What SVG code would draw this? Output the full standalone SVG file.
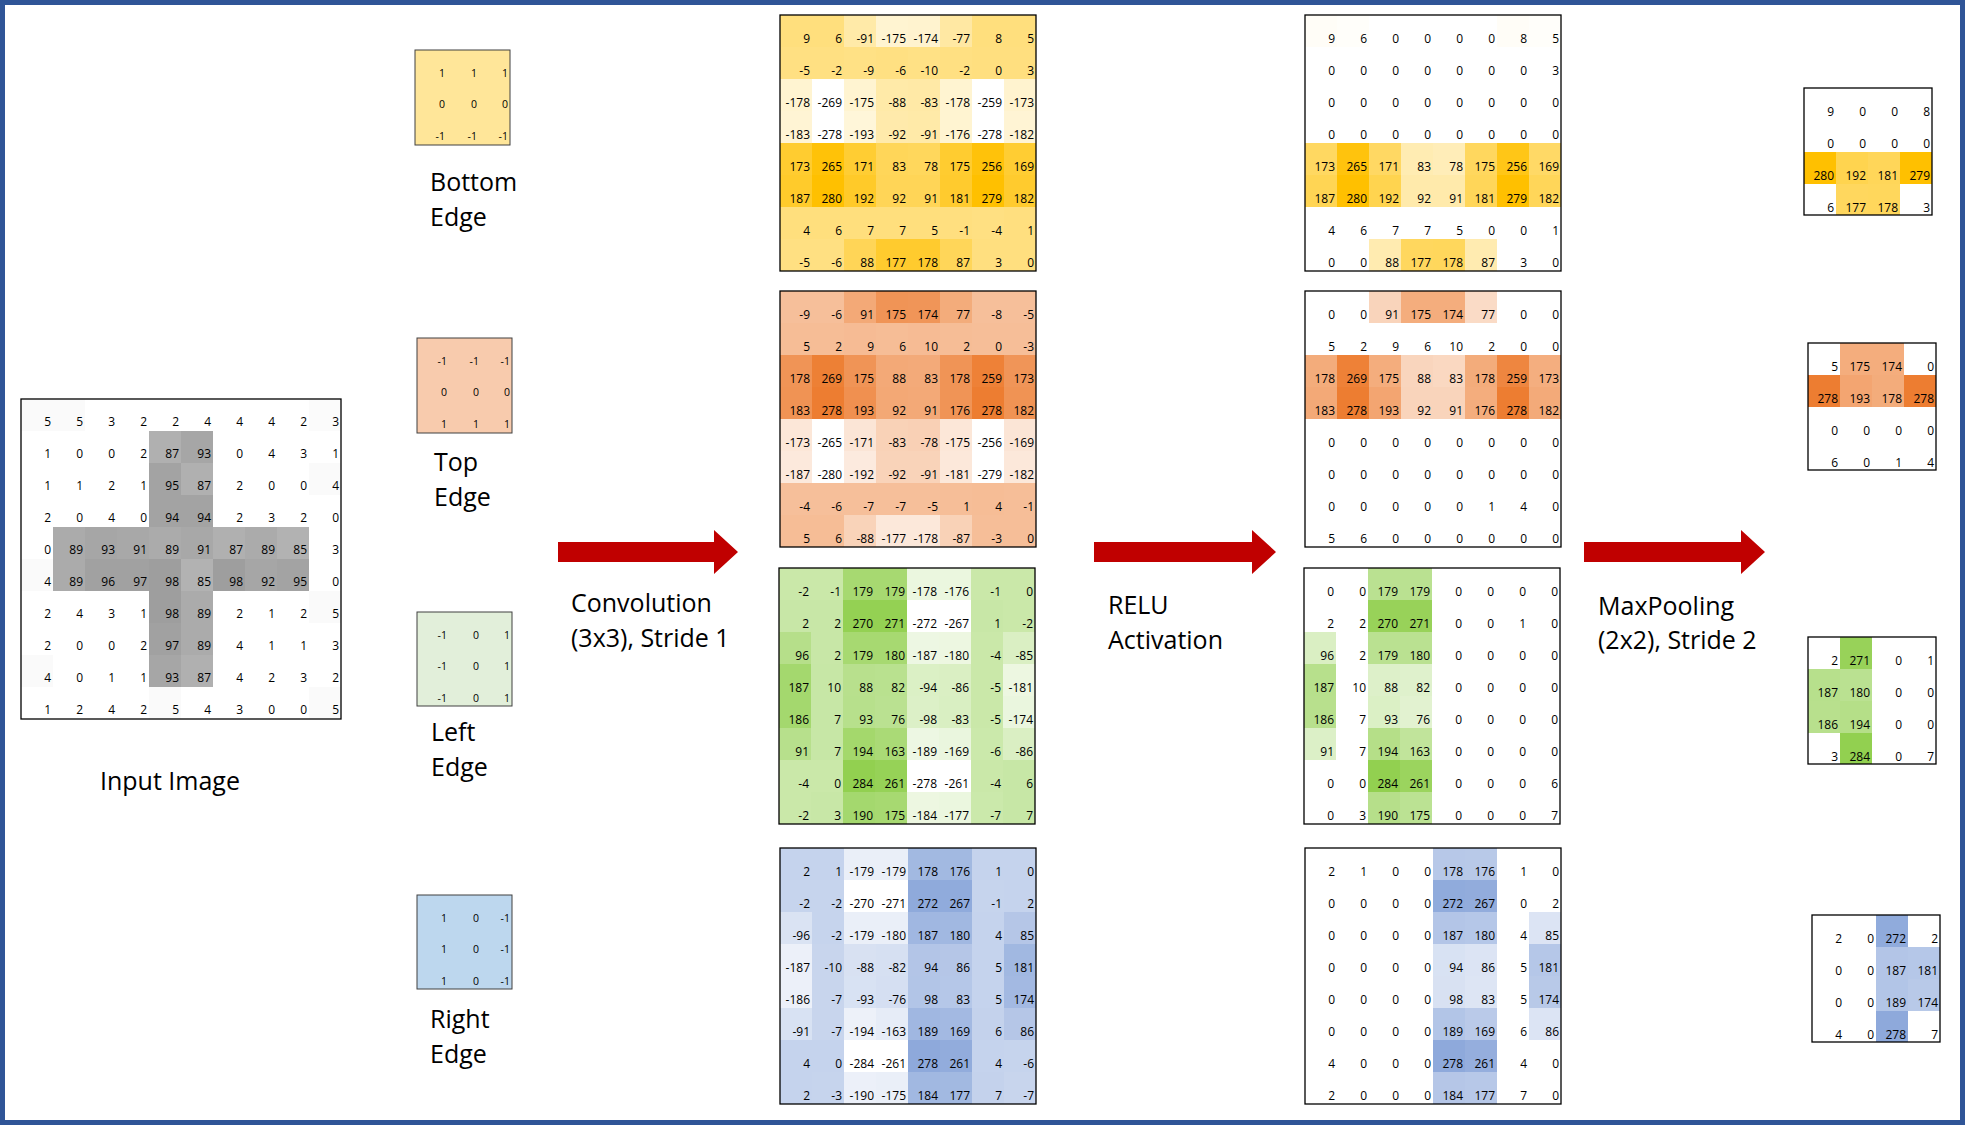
<svg xmlns="http://www.w3.org/2000/svg" width="1965" height="1125" viewBox="0 0 1965 1125">
<style>
.n text{font-family:"Open Sans","Liberation Sans",sans-serif;font-size:12px;text-anchor:end;fill:#000}
.k text{font-family:"Open Sans","Liberation Sans",sans-serif;font-size:10.5px;text-anchor:end;fill:#000}
.lbl{font-family:"Open Sans","Liberation Sans",sans-serif;font-size:25px;fill:#000}
.bg{fill:#fff}
.bd{fill:none;stroke:#000;stroke-width:1.3}
.kb{stroke:#404040;stroke-width:1}
.c rect{width:32px;height:32px}
.cy{fill:#FFC000}.co{fill:#ED7D31}.cg{fill:#92D050}.cb{fill:#8EA9DB}.cx{fill:#000}
.arrow{fill:#C00000}
</style>
<rect x="0" y="0" width="1965" height="1125" fill="#fff"/>
<rect x="2.5" y="2.5" width="1960" height="1120" fill="none" stroke="#2F5597" stroke-width="5"/>

<g id="input-image" transform="translate(21,399)">
<rect class="bg" width="320" height="320"/>
<g class="c cx">
<rect x="128" y="32" opacity=".31"/><rect x="160" y="32" opacity=".35"/>
<rect x="128" y="64" opacity=".36"/><rect x="160" y="64" opacity=".31"/>
<rect x="128" y="96" opacity=".36"/><rect x="160" y="96" opacity=".36"/>
<rect x="32" y="128" opacity=".33"/><rect x="64" y="128" opacity=".35"/><rect x="96" y="128" opacity=".34"/><rect x="128" y="128" opacity=".33"/><rect x="160" y="128" opacity=".34"/><rect x="192" y="128" opacity=".31"/><rect x="224" y="128" opacity=".33"/><rect x="256" y="128" opacity=".30"/>
<rect x="32" y="160" opacity=".33"/><rect x="64" y="160" opacity=".37"/><rect x="96" y="160" opacity=".37"/><rect x="128" y="160" opacity=".38"/><rect x="160" y="160" opacity=".30"/><rect x="192" y="160" opacity=".38"/><rect x="224" y="160" opacity=".35"/><rect x="256" y="160" opacity=".36"/>
<rect x="128" y="192" opacity=".38"/><rect x="160" y="192" opacity=".33"/>
<rect x="128" y="224" opacity=".37"/><rect x="160" y="224" opacity=".33"/>
<rect x="128" y="256" opacity=".35"/><rect x="160" y="256" opacity=".31"/>
<rect x="0" y="0" opacity=".02"/><rect x="32" y="0" opacity=".02"/><rect x="288" y="0" opacity=".015"/><rect x="288" y="64" opacity=".02"/><rect x="288" y="192" opacity=".02"/><rect x="0" y="256" opacity=".02"/><rect x="0" y="160" opacity=".02"/><rect x="128" y="288" opacity=".02"/><rect x="288" y="288" opacity=".02"/>
</g>
<g class="n">
<text y="27"><tspan x="30">5</tspan><tspan x="62">5</tspan><tspan x="94">3</tspan><tspan x="126">2</tspan><tspan x="158">2</tspan><tspan x="190">4</tspan><tspan x="222">4</tspan><tspan x="254">4</tspan><tspan x="286">2</tspan><tspan x="318">3</tspan></text>
<text y="59"><tspan x="30">1</tspan><tspan x="62">0</tspan><tspan x="94">0</tspan><tspan x="126">2</tspan><tspan x="158">87</tspan><tspan x="190">93</tspan><tspan x="222">0</tspan><tspan x="254">4</tspan><tspan x="286">3</tspan><tspan x="318">1</tspan></text>
<text y="91"><tspan x="30">1</tspan><tspan x="62">1</tspan><tspan x="94">2</tspan><tspan x="126">1</tspan><tspan x="158">95</tspan><tspan x="190">87</tspan><tspan x="222">2</tspan><tspan x="254">0</tspan><tspan x="286">0</tspan><tspan x="318">4</tspan></text>
<text y="123"><tspan x="30">2</tspan><tspan x="62">0</tspan><tspan x="94">4</tspan><tspan x="126">0</tspan><tspan x="158">94</tspan><tspan x="190">94</tspan><tspan x="222">2</tspan><tspan x="254">3</tspan><tspan x="286">2</tspan><tspan x="318">0</tspan></text>
<text y="155"><tspan x="30">0</tspan><tspan x="62">89</tspan><tspan x="94">93</tspan><tspan x="126">91</tspan><tspan x="158">89</tspan><tspan x="190">91</tspan><tspan x="222">87</tspan><tspan x="254">89</tspan><tspan x="286">85</tspan><tspan x="318">3</tspan></text>
<text y="187"><tspan x="30">4</tspan><tspan x="62">89</tspan><tspan x="94">96</tspan><tspan x="126">97</tspan><tspan x="158">98</tspan><tspan x="190">85</tspan><tspan x="222">98</tspan><tspan x="254">92</tspan><tspan x="286">95</tspan><tspan x="318">0</tspan></text>
<text y="219"><tspan x="30">2</tspan><tspan x="62">4</tspan><tspan x="94">3</tspan><tspan x="126">1</tspan><tspan x="158">98</tspan><tspan x="190">89</tspan><tspan x="222">2</tspan><tspan x="254">1</tspan><tspan x="286">2</tspan><tspan x="318">5</tspan></text>
<text y="251"><tspan x="30">2</tspan><tspan x="62">0</tspan><tspan x="94">0</tspan><tspan x="126">2</tspan><tspan x="158">97</tspan><tspan x="190">89</tspan><tspan x="222">4</tspan><tspan x="254">1</tspan><tspan x="286">1</tspan><tspan x="318">3</tspan></text>
<text y="283"><tspan x="30">4</tspan><tspan x="62">0</tspan><tspan x="94">1</tspan><tspan x="126">1</tspan><tspan x="158">93</tspan><tspan x="190">87</tspan><tspan x="222">4</tspan><tspan x="254">2</tspan><tspan x="286">3</tspan><tspan x="318">2</tspan></text>
<text y="315"><tspan x="30">1</tspan><tspan x="62">2</tspan><tspan x="94">4</tspan><tspan x="126">2</tspan><tspan x="158">5</tspan><tspan x="190">4</tspan><tspan x="222">3</tspan><tspan x="254">0</tspan><tspan x="286">0</tspan><tspan x="318">5</tspan></text>
</g>
<rect class="bd" width="320" height="320"/>
</g>
<text class="lbl" x="100" y="790">Input Image</text>

<g id="kernel-bottom" transform="translate(415,50)">
<rect class="kb" width="95" height="95" fill="#FFE699"/>
<g class="k"><text y="27"><tspan x="30">1</tspan><tspan x="62">1</tspan><tspan x="93">1</tspan></text><text y="58"><tspan x="30">0</tspan><tspan x="62">0</tspan><tspan x="93">0</tspan></text><text y="90"><tspan x="30">-1</tspan><tspan x="62">-1</tspan><tspan x="93">-1</tspan></text></g>
<text class="lbl" x="15" y="141">Bottom</text><text class="lbl" x="15" y="176">Edge</text>
</g>
<g id="kernel-top" transform="translate(417,338)">
<rect class="kb" width="95" height="95" fill="#F8CBAD"/>
<g class="k"><text y="27"><tspan x="30">-1</tspan><tspan x="62">-1</tspan><tspan x="93">-1</tspan></text><text y="58"><tspan x="30">0</tspan><tspan x="62">0</tspan><tspan x="93">0</tspan></text><text y="90"><tspan x="30">1</tspan><tspan x="62">1</tspan><tspan x="93">1</tspan></text></g>
<text class="lbl" x="17" y="133">Top</text><text class="lbl" x="17" y="168">Edge</text>
</g>
<g id="kernel-left" transform="translate(417,612)">
<rect class="kb" width="95" height="94" fill="#E2EFDA"/>
<g class="k"><text y="27"><tspan x="30">-1</tspan><tspan x="62">0</tspan><tspan x="93">1</tspan></text><text y="58"><tspan x="30">-1</tspan><tspan x="62">0</tspan><tspan x="93">1</tspan></text><text y="90"><tspan x="30">-1</tspan><tspan x="62">0</tspan><tspan x="93">1</tspan></text></g>
<text class="lbl" x="14" y="129">Left</text><text class="lbl" x="14" y="164">Edge</text>
</g>
<g id="kernel-right" transform="translate(417,895)">
<rect class="kb" width="95" height="94" fill="#BDD7EE"/>
<g class="k"><text y="27"><tspan x="30">1</tspan><tspan x="62">0</tspan><tspan x="93">-1</tspan></text><text y="58"><tspan x="30">1</tspan><tspan x="62">0</tspan><tspan x="93">-1</tspan></text><text y="90"><tspan x="30">1</tspan><tspan x="62">0</tspan><tspan x="93">-1</tspan></text></g>
<text class="lbl" x="13" y="133">Right</text><text class="lbl" x="13" y="168">Edge</text>
</g>

<g id="conv-bottom" transform="translate(780,15)">
<rect class="bg" width="256" height="256"/>
<g class="c cy">
<rect x="0" y="0" opacity=".51"/><rect x="32" y="0" opacity=".51"/><rect x="64" y="0" opacity=".34"/><rect x="96" y="0" opacity=".18"/><rect x="128" y="0" opacity=".19"/><rect x="160" y="0" opacity=".36"/><rect x="192" y="0" opacity=".51"/><rect x="224" y="0" opacity=".51"/>
<rect x="0" y="32" opacity=".49"/><rect x="32" y="32" opacity=".49"/><rect x="64" y="32" opacity=".48"/><rect x="96" y="32" opacity=".49"/><rect x="128" y="32" opacity=".48"/><rect x="160" y="32" opacity=".49"/><rect x="192" y="32" opacity=".5"/><rect x="224" y="32" opacity=".5"/>
<rect x="0" y="64" opacity=".18"/><rect x="64" y="64" opacity=".18"/><rect x="96" y="64" opacity=".34"/><rect x="128" y="64" opacity=".35"/><rect x="160" y="64" opacity=".18"/><rect x="224" y="64" opacity=".19"/>
<rect x="0" y="96" opacity=".17"/><rect x="64" y="96" opacity=".15"/><rect x="96" y="96" opacity=".33"/><rect x="128" y="96" opacity=".34"/><rect x="160" y="96" opacity=".18"/><rect x="224" y="96" opacity=".17"/>
<rect x="0" y="128" opacity=".81"/><rect x="32" y="128" opacity=".97"/><rect x="64" y="128" opacity=".8"/><rect x="96" y="128" opacity=".65"/><rect x="128" y="128" opacity=".64"/><rect x="160" y="128" opacity=".81"/><rect x="192" y="128" opacity=".96"/><rect x="224" y="128" opacity=".8"/>
<rect x="0" y="160" opacity=".83"/><rect x="32" y="160"/><rect x="64" y="160" opacity=".84"/><rect x="96" y="160" opacity=".66"/><rect x="128" y="160" opacity=".66"/><rect x="160" y="160" opacity=".82"/><rect x="192" y="160"/><rect x="224" y="160" opacity=".82"/>
<rect x="0" y="192" opacity=".51"/><rect x="32" y="192" opacity=".51"/><rect x="64" y="192" opacity=".51"/><rect x="96" y="192" opacity=".51"/><rect x="128" y="192" opacity=".51"/><rect x="160" y="192" opacity=".5"/><rect x="192" y="192" opacity=".49"/><rect x="224" y="192" opacity=".5"/>
<rect x="0" y="224" opacity=".49"/><rect x="32" y="224" opacity=".49"/><rect x="64" y="224" opacity=".66"/><rect x="96" y="224" opacity=".82"/><rect x="128" y="224" opacity=".82"/><rect x="160" y="224" opacity=".65"/><rect x="192" y="224" opacity=".5"/><rect x="224" y="224" opacity=".5"/>
</g>
<g class="n">
<text y="27.5"><tspan x="30">9</tspan><tspan x="62">6</tspan><tspan x="94">-91</tspan><tspan x="126">-175</tspan><tspan x="158">-174</tspan><tspan x="190">-77</tspan><tspan x="222">8</tspan><tspan x="254">5</tspan></text>
<text y="59.5"><tspan x="30">-5</tspan><tspan x="62">-2</tspan><tspan x="94">-9</tspan><tspan x="126">-6</tspan><tspan x="158">-10</tspan><tspan x="190">-2</tspan><tspan x="222">0</tspan><tspan x="254">3</tspan></text>
<text y="91.5"><tspan x="30">-178</tspan><tspan x="62">-269</tspan><tspan x="94">-175</tspan><tspan x="126">-88</tspan><tspan x="158">-83</tspan><tspan x="190">-178</tspan><tspan x="222">-259</tspan><tspan x="254">-173</tspan></text>
<text y="123.5"><tspan x="30">-183</tspan><tspan x="62">-278</tspan><tspan x="94">-193</tspan><tspan x="126">-92</tspan><tspan x="158">-91</tspan><tspan x="190">-176</tspan><tspan x="222">-278</tspan><tspan x="254">-182</tspan></text>
<text y="155.5"><tspan x="30">173</tspan><tspan x="62">265</tspan><tspan x="94">171</tspan><tspan x="126">83</tspan><tspan x="158">78</tspan><tspan x="190">175</tspan><tspan x="222">256</tspan><tspan x="254">169</tspan></text>
<text y="187.5"><tspan x="30">187</tspan><tspan x="62">280</tspan><tspan x="94">192</tspan><tspan x="126">92</tspan><tspan x="158">91</tspan><tspan x="190">181</tspan><tspan x="222">279</tspan><tspan x="254">182</tspan></text>
<text y="219.5"><tspan x="30">4</tspan><tspan x="62">6</tspan><tspan x="94">7</tspan><tspan x="126">7</tspan><tspan x="158">5</tspan><tspan x="190">-1</tspan><tspan x="222">-4</tspan><tspan x="254">1</tspan></text>
<text y="251.5"><tspan x="30">-5</tspan><tspan x="62">-6</tspan><tspan x="94">88</tspan><tspan x="126">177</tspan><tspan x="158">178</tspan><tspan x="190">87</tspan><tspan x="222">3</tspan><tspan x="254">0</tspan></text>
</g>
<rect class="bd" width="256" height="256"/>
</g>

<g id="conv-top" transform="translate(780,291)">
<rect class="bg" width="256" height="256"/>
<g class="c co">
<rect x="0" y="0" opacity=".49"/><rect x="32" y="0" opacity=".49"/><rect x="64" y="0" opacity=".66"/><rect x="96" y="0" opacity=".82"/><rect x="128" y="0" opacity=".81"/><rect x="160" y="0" opacity=".64"/><rect x="192" y="0" opacity=".49"/><rect x="224" y="0" opacity=".49"/>
<rect x="0" y="32" opacity=".51"/><rect x="32" y="32" opacity=".51"/><rect x="64" y="32" opacity=".52"/><rect x="96" y="32" opacity=".51"/><rect x="128" y="32" opacity=".52"/><rect x="160" y="32" opacity=".51"/><rect x="192" y="32" opacity=".5"/><rect x="224" y="32" opacity=".5"/>
<rect x="0" y="64" opacity=".82"/><rect x="32" y="64" opacity=".98"/><rect x="64" y="64" opacity=".82"/><rect x="96" y="64" opacity=".66"/><rect x="128" y="64" opacity=".65"/><rect x="160" y="64" opacity=".82"/><rect x="192" y="64" opacity=".97"/><rect x="224" y="64" opacity=".81"/>
<rect x="0" y="96" opacity=".83"/><rect x="32" y="96"/><rect x="64" y="96" opacity=".85"/><rect x="96" y="96" opacity=".67"/><rect x="128" y="96" opacity=".66"/><rect x="160" y="96" opacity=".82"/><rect x="192" y="96"/><rect x="224" y="96" opacity=".83"/>
<rect x="0" y="128" opacity=".19"/><rect x="64" y="128" opacity=".2"/><rect x="96" y="128" opacity=".35"/><rect x="128" y="128" opacity=".36"/><rect x="160" y="128" opacity=".19"/><rect x="224" y="128" opacity=".2"/>
<rect x="0" y="160" opacity=".17"/><rect x="64" y="160" opacity=".16"/><rect x="96" y="160" opacity=".34"/><rect x="128" y="160" opacity=".34"/><rect x="160" y="160" opacity=".18"/><rect x="224" y="160" opacity=".18"/>
<rect x="0" y="192" opacity=".49"/><rect x="32" y="192" opacity=".49"/><rect x="64" y="192" opacity=".49"/><rect x="96" y="192" opacity=".49"/><rect x="128" y="192" opacity=".49"/><rect x="160" y="192" opacity=".5"/><rect x="192" y="192" opacity=".51"/><rect x="224" y="192" opacity=".5"/>
<rect x="0" y="224" opacity=".51"/><rect x="32" y="224" opacity=".51"/><rect x="64" y="224" opacity=".34"/><rect x="96" y="224" opacity=".18"/><rect x="128" y="224" opacity=".18"/><rect x="160" y="224" opacity=".35"/><rect x="192" y="224" opacity=".5"/><rect x="224" y="224" opacity=".5"/>
</g>
<g class="n">
<text y="27.5"><tspan x="30">-9</tspan><tspan x="62">-6</tspan><tspan x="94">91</tspan><tspan x="126">175</tspan><tspan x="158">174</tspan><tspan x="190">77</tspan><tspan x="222">-8</tspan><tspan x="254">-5</tspan></text>
<text y="59.5"><tspan x="30">5</tspan><tspan x="62">2</tspan><tspan x="94">9</tspan><tspan x="126">6</tspan><tspan x="158">10</tspan><tspan x="190">2</tspan><tspan x="222">0</tspan><tspan x="254">-3</tspan></text>
<text y="91.5"><tspan x="30">178</tspan><tspan x="62">269</tspan><tspan x="94">175</tspan><tspan x="126">88</tspan><tspan x="158">83</tspan><tspan x="190">178</tspan><tspan x="222">259</tspan><tspan x="254">173</tspan></text>
<text y="123.5"><tspan x="30">183</tspan><tspan x="62">278</tspan><tspan x="94">193</tspan><tspan x="126">92</tspan><tspan x="158">91</tspan><tspan x="190">176</tspan><tspan x="222">278</tspan><tspan x="254">182</tspan></text>
<text y="155.5"><tspan x="30">-173</tspan><tspan x="62">-265</tspan><tspan x="94">-171</tspan><tspan x="126">-83</tspan><tspan x="158">-78</tspan><tspan x="190">-175</tspan><tspan x="222">-256</tspan><tspan x="254">-169</tspan></text>
<text y="187.5"><tspan x="30">-187</tspan><tspan x="62">-280</tspan><tspan x="94">-192</tspan><tspan x="126">-92</tspan><tspan x="158">-91</tspan><tspan x="190">-181</tspan><tspan x="222">-279</tspan><tspan x="254">-182</tspan></text>
<text y="219.5"><tspan x="30">-4</tspan><tspan x="62">-6</tspan><tspan x="94">-7</tspan><tspan x="126">-7</tspan><tspan x="158">-5</tspan><tspan x="190">1</tspan><tspan x="222">4</tspan><tspan x="254">-1</tspan></text>
<text y="251.5"><tspan x="30">5</tspan><tspan x="62">6</tspan><tspan x="94">-88</tspan><tspan x="126">-177</tspan><tspan x="158">-178</tspan><tspan x="190">-87</tspan><tspan x="222">-3</tspan><tspan x="254">0</tspan></text>
</g>
<rect class="bd" width="256" height="256"/>
</g>

<g id="conv-left" transform="translate(779,568)">
<rect class="bg" width="256" height="256"/>
<g class="c cg">
<rect x="0" y="0" opacity=".49"/><rect x="32" y="0" opacity=".49"/><rect x="64" y="0" opacity=".81"/><rect x="96" y="0" opacity=".81"/><rect x="128" y="0" opacity=".18"/><rect x="160" y="0" opacity=".18"/><rect x="192" y="0" opacity=".49"/><rect x="224" y="0" opacity=".49"/>
<rect x="0" y="32" opacity=".5"/><rect x="32" y="32" opacity=".5"/><rect x="64" y="32" opacity=".98"/><rect x="96" y="32" opacity=".98"/><rect x="192" y="32" opacity=".5"/><rect x="224" y="32" opacity=".49"/>
<rect x="0" y="64" opacity=".67"/><rect x="32" y="64" opacity=".5"/><rect x="64" y="64" opacity=".81"/><rect x="96" y="64" opacity=".81"/><rect x="128" y="64" opacity=".16"/><rect x="160" y="64" opacity=".17"/><rect x="192" y="64" opacity=".49"/><rect x="224" y="64" opacity=".34"/>
<rect x="0" y="96" opacity=".83"/><rect x="32" y="96" opacity=".51"/><rect x="64" y="96" opacity=".65"/><rect x="96" y="96" opacity=".64"/><rect x="128" y="96" opacity=".33"/><rect x="160" y="96" opacity=".34"/><rect x="192" y="96" opacity=".49"/><rect x="224" y="96" opacity=".17"/>
<rect x="0" y="128" opacity=".83"/><rect x="32" y="128" opacity=".51"/><rect x="64" y="128" opacity=".66"/><rect x="96" y="128" opacity=".63"/><rect x="128" y="128" opacity=".32"/><rect x="160" y="128" opacity=".35"/><rect x="192" y="128" opacity=".49"/><rect x="224" y="128" opacity=".19"/>
<rect x="0" y="160" opacity=".66"/><rect x="32" y="160" opacity=".51"/><rect x="64" y="160" opacity=".84"/><rect x="96" y="160" opacity=".78"/><rect x="128" y="160" opacity=".16"/><rect x="160" y="160" opacity=".19"/><rect x="192" y="160" opacity=".48"/><rect x="224" y="160" opacity=".34"/>
<rect x="0" y="192" opacity=".49"/><rect x="32" y="192" opacity=".49"/><rect x="64" y="192"/><rect x="96" y="192" opacity=".96"/><rect x="192" y="192" opacity=".49"/><rect x="224" y="192" opacity=".51"/>
<rect x="0" y="224" opacity=".49"/><rect x="32" y="224" opacity=".5"/><rect x="64" y="224" opacity=".83"/><rect x="96" y="224" opacity=".81"/><rect x="128" y="224" opacity=".17"/><rect x="160" y="224" opacity=".18"/><rect x="192" y="224" opacity=".48"/><rect x="224" y="224" opacity=".51"/>
</g>
<g class="n">
<text y="27.5"><tspan x="30">-2</tspan><tspan x="62">-1</tspan><tspan x="94">179</tspan><tspan x="126">179</tspan><tspan x="158">-178</tspan><tspan x="190">-176</tspan><tspan x="222">-1</tspan><tspan x="254">0</tspan></text>
<text y="59.5"><tspan x="30">2</tspan><tspan x="62">2</tspan><tspan x="94">270</tspan><tspan x="126">271</tspan><tspan x="158">-272</tspan><tspan x="190">-267</tspan><tspan x="222">1</tspan><tspan x="254">-2</tspan></text>
<text y="91.5"><tspan x="30">96</tspan><tspan x="62">2</tspan><tspan x="94">179</tspan><tspan x="126">180</tspan><tspan x="158">-187</tspan><tspan x="190">-180</tspan><tspan x="222">-4</tspan><tspan x="254">-85</tspan></text>
<text y="123.5"><tspan x="30">187</tspan><tspan x="62">10</tspan><tspan x="94">88</tspan><tspan x="126">82</tspan><tspan x="158">-94</tspan><tspan x="190">-86</tspan><tspan x="222">-5</tspan><tspan x="254">-181</tspan></text>
<text y="155.5"><tspan x="30">186</tspan><tspan x="62">7</tspan><tspan x="94">93</tspan><tspan x="126">76</tspan><tspan x="158">-98</tspan><tspan x="190">-83</tspan><tspan x="222">-5</tspan><tspan x="254">-174</tspan></text>
<text y="187.5"><tspan x="30">91</tspan><tspan x="62">7</tspan><tspan x="94">194</tspan><tspan x="126">163</tspan><tspan x="158">-189</tspan><tspan x="190">-169</tspan><tspan x="222">-6</tspan><tspan x="254">-86</tspan></text>
<text y="219.5"><tspan x="30">-4</tspan><tspan x="62">0</tspan><tspan x="94">284</tspan><tspan x="126">261</tspan><tspan x="158">-278</tspan><tspan x="190">-261</tspan><tspan x="222">-4</tspan><tspan x="254">6</tspan></text>
<text y="251.5"><tspan x="30">-2</tspan><tspan x="62">3</tspan><tspan x="94">190</tspan><tspan x="126">175</tspan><tspan x="158">-184</tspan><tspan x="190">-177</tspan><tspan x="222">-7</tspan><tspan x="254">7</tspan></text>
</g>
<rect class="bd" width="256" height="256"/>
</g>

<g id="conv-right" transform="translate(780,848)">
<rect class="bg" width="256" height="256"/>
<g class="c cb">
<rect x="0" y="0" opacity=".51"/><rect x="32" y="0" opacity=".51"/><rect x="64" y="0" opacity=".19"/><rect x="96" y="0" opacity=".19"/><rect x="128" y="0" opacity=".82"/><rect x="160" y="0" opacity=".82"/><rect x="192" y="0" opacity=".51"/><rect x="224" y="0" opacity=".51"/>
<rect x="0" y="32" opacity=".5"/><rect x="32" y="32" opacity=".5"/><rect x="128" y="32" opacity=".99"/><rect x="160" y="32" opacity=".98"/><rect x="192" y="32" opacity=".5"/><rect x="224" y="32" opacity=".51"/>
<rect x="0" y="64" opacity=".33"/><rect x="32" y="64" opacity=".5"/><rect x="64" y="64" opacity=".19"/><rect x="96" y="64" opacity=".19"/><rect x="128" y="64" opacity=".84"/><rect x="160" y="64" opacity=".83"/><rect x="192" y="64" opacity=".51"/><rect x="224" y="64" opacity=".66"/>
<rect x="0" y="96" opacity=".17"/><rect x="32" y="96" opacity=".49"/><rect x="64" y="96" opacity=".35"/><rect x="96" y="96" opacity=".36"/><rect x="128" y="96" opacity=".67"/><rect x="160" y="96" opacity=".66"/><rect x="192" y="96" opacity=".51"/><rect x="224" y="96" opacity=".83"/>
<rect x="0" y="128" opacity=".17"/><rect x="32" y="128" opacity=".49"/><rect x="64" y="128" opacity=".34"/><rect x="96" y="128" opacity=".37"/><rect x="128" y="128" opacity=".68"/><rect x="160" y="128" opacity=".65"/><rect x="192" y="128" opacity=".51"/><rect x="224" y="128" opacity=".81"/>
<rect x="0" y="160" opacity=".34"/><rect x="32" y="160" opacity=".49"/><rect x="64" y="160" opacity=".16"/><rect x="96" y="160" opacity=".22"/><rect x="128" y="160" opacity=".84"/><rect x="160" y="160" opacity=".81"/><rect x="192" y="160" opacity=".52"/><rect x="224" y="160" opacity=".66"/>
<rect x="0" y="192" opacity=".51"/><rect x="32" y="192" opacity=".51"/><rect x="128" y="192"/><rect x="160" y="192" opacity=".97"/><rect x="192" y="192" opacity=".51"/><rect x="224" y="192" opacity=".5"/>
<rect x="0" y="224" opacity=".51"/><rect x="32" y="224" opacity=".5"/><rect x="64" y="224" opacity=".17"/><rect x="96" y="224" opacity=".19"/><rect x="128" y="224" opacity=".83"/><rect x="160" y="224" opacity=".82"/><rect x="192" y="224" opacity=".52"/><rect x="224" y="224" opacity=".49"/>
</g>
<g class="n">
<text y="27.5"><tspan x="30">2</tspan><tspan x="62">1</tspan><tspan x="94">-179</tspan><tspan x="126">-179</tspan><tspan x="158">178</tspan><tspan x="190">176</tspan><tspan x="222">1</tspan><tspan x="254">0</tspan></text>
<text y="59.5"><tspan x="30">-2</tspan><tspan x="62">-2</tspan><tspan x="94">-270</tspan><tspan x="126">-271</tspan><tspan x="158">272</tspan><tspan x="190">267</tspan><tspan x="222">-1</tspan><tspan x="254">2</tspan></text>
<text y="91.5"><tspan x="30">-96</tspan><tspan x="62">-2</tspan><tspan x="94">-179</tspan><tspan x="126">-180</tspan><tspan x="158">187</tspan><tspan x="190">180</tspan><tspan x="222">4</tspan><tspan x="254">85</tspan></text>
<text y="123.5"><tspan x="30">-187</tspan><tspan x="62">-10</tspan><tspan x="94">-88</tspan><tspan x="126">-82</tspan><tspan x="158">94</tspan><tspan x="190">86</tspan><tspan x="222">5</tspan><tspan x="254">181</tspan></text>
<text y="155.5"><tspan x="30">-186</tspan><tspan x="62">-7</tspan><tspan x="94">-93</tspan><tspan x="126">-76</tspan><tspan x="158">98</tspan><tspan x="190">83</tspan><tspan x="222">5</tspan><tspan x="254">174</tspan></text>
<text y="187.5"><tspan x="30">-91</tspan><tspan x="62">-7</tspan><tspan x="94">-194</tspan><tspan x="126">-163</tspan><tspan x="158">189</tspan><tspan x="190">169</tspan><tspan x="222">6</tspan><tspan x="254">86</tspan></text>
<text y="219.5"><tspan x="30">4</tspan><tspan x="62">0</tspan><tspan x="94">-284</tspan><tspan x="126">-261</tspan><tspan x="158">278</tspan><tspan x="190">261</tspan><tspan x="222">4</tspan><tspan x="254">-6</tspan></text>
<text y="251.5"><tspan x="30">2</tspan><tspan x="62">-3</tspan><tspan x="94">-190</tspan><tspan x="126">-175</tspan><tspan x="158">184</tspan><tspan x="190">177</tspan><tspan x="222">7</tspan><tspan x="254">-7</tspan></text>
</g>
<rect class="bd" width="256" height="256"/>
</g>

<g id="relu-bottom" transform="translate(1305,15)">
<rect class="bg" width="256" height="256"/>
<g class="c cy">
<rect x="0" y="0" opacity=".03"/><rect x="32" y="0" opacity=".02"/><rect x="192" y="0" opacity=".03"/><rect x="224" y="0" opacity=".02"/>
<rect x="0" y="128" opacity=".62"/><rect x="32" y="128" opacity=".95"/><rect x="64" y="128" opacity=".61"/><rect x="96" y="128" opacity=".3"/><rect x="128" y="128" opacity=".28"/><rect x="160" y="128" opacity=".63"/><rect x="192" y="128" opacity=".91"/><rect x="224" y="128" opacity=".6"/>
<rect x="0" y="160" opacity=".67"/><rect x="32" y="160"/><rect x="64" y="160" opacity=".69"/><rect x="96" y="160" opacity=".33"/><rect x="128" y="160" opacity=".33"/><rect x="160" y="160" opacity=".65"/><rect x="192" y="160"/><rect x="224" y="160" opacity=".65"/>
<rect x="64" y="224" opacity=".31"/><rect x="96" y="224" opacity=".63"/><rect x="128" y="224" opacity=".64"/><rect x="160" y="224" opacity=".31"/>
</g>
<g class="n">
<text y="27.5"><tspan x="30">9</tspan><tspan x="62">6</tspan><tspan x="94">0</tspan><tspan x="126">0</tspan><tspan x="158">0</tspan><tspan x="190">0</tspan><tspan x="222">8</tspan><tspan x="254">5</tspan></text>
<text y="59.5"><tspan x="30">0</tspan><tspan x="62">0</tspan><tspan x="94">0</tspan><tspan x="126">0</tspan><tspan x="158">0</tspan><tspan x="190">0</tspan><tspan x="222">0</tspan><tspan x="254">3</tspan></text>
<text y="91.5"><tspan x="30">0</tspan><tspan x="62">0</tspan><tspan x="94">0</tspan><tspan x="126">0</tspan><tspan x="158">0</tspan><tspan x="190">0</tspan><tspan x="222">0</tspan><tspan x="254">0</tspan></text>
<text y="123.5"><tspan x="30">0</tspan><tspan x="62">0</tspan><tspan x="94">0</tspan><tspan x="126">0</tspan><tspan x="158">0</tspan><tspan x="190">0</tspan><tspan x="222">0</tspan><tspan x="254">0</tspan></text>
<text y="155.5"><tspan x="30">173</tspan><tspan x="62">265</tspan><tspan x="94">171</tspan><tspan x="126">83</tspan><tspan x="158">78</tspan><tspan x="190">175</tspan><tspan x="222">256</tspan><tspan x="254">169</tspan></text>
<text y="187.5"><tspan x="30">187</tspan><tspan x="62">280</tspan><tspan x="94">192</tspan><tspan x="126">92</tspan><tspan x="158">91</tspan><tspan x="190">181</tspan><tspan x="222">279</tspan><tspan x="254">182</tspan></text>
<text y="219.5"><tspan x="30">4</tspan><tspan x="62">6</tspan><tspan x="94">7</tspan><tspan x="126">7</tspan><tspan x="158">5</tspan><tspan x="190">0</tspan><tspan x="222">0</tspan><tspan x="254">1</tspan></text>
<text y="251.5"><tspan x="30">0</tspan><tspan x="62">0</tspan><tspan x="94">88</tspan><tspan x="126">177</tspan><tspan x="158">178</tspan><tspan x="190">87</tspan><tspan x="222">3</tspan><tspan x="254">0</tspan></text>
</g>
<rect class="bd" width="256" height="256"/>
</g>

<g id="relu-top" transform="translate(1305,291)">
<rect class="bg" width="256" height="256"/>
<g class="c co">
<rect x="64" y="0" opacity=".33"/><rect x="96" y="0" opacity=".63"/><rect x="128" y="0" opacity=".63"/><rect x="160" y="0" opacity=".28"/>
<rect x="0" y="64" opacity=".64"/><rect x="32" y="64" opacity=".97"/><rect x="64" y="64" opacity=".63"/><rect x="96" y="64" opacity=".32"/><rect x="128" y="64" opacity=".3"/><rect x="160" y="64" opacity=".64"/><rect x="192" y="64" opacity=".93"/><rect x="224" y="64" opacity=".62"/>
<rect x="0" y="96" opacity=".66"/><rect x="32" y="96"/><rect x="64" y="96" opacity=".69"/><rect x="96" y="96" opacity=".33"/><rect x="128" y="96" opacity=".33"/><rect x="160" y="96" opacity=".63"/><rect x="192" y="96"/><rect x="224" y="96" opacity=".65"/>
</g>
<g class="n">
<text y="27.5"><tspan x="30">0</tspan><tspan x="62">0</tspan><tspan x="94">91</tspan><tspan x="126">175</tspan><tspan x="158">174</tspan><tspan x="190">77</tspan><tspan x="222">0</tspan><tspan x="254">0</tspan></text>
<text y="59.5"><tspan x="30">5</tspan><tspan x="62">2</tspan><tspan x="94">9</tspan><tspan x="126">6</tspan><tspan x="158">10</tspan><tspan x="190">2</tspan><tspan x="222">0</tspan><tspan x="254">0</tspan></text>
<text y="91.5"><tspan x="30">178</tspan><tspan x="62">269</tspan><tspan x="94">175</tspan><tspan x="126">88</tspan><tspan x="158">83</tspan><tspan x="190">178</tspan><tspan x="222">259</tspan><tspan x="254">173</tspan></text>
<text y="123.5"><tspan x="30">183</tspan><tspan x="62">278</tspan><tspan x="94">193</tspan><tspan x="126">92</tspan><tspan x="158">91</tspan><tspan x="190">176</tspan><tspan x="222">278</tspan><tspan x="254">182</tspan></text>
<text y="155.5"><tspan x="30">0</tspan><tspan x="62">0</tspan><tspan x="94">0</tspan><tspan x="126">0</tspan><tspan x="158">0</tspan><tspan x="190">0</tspan><tspan x="222">0</tspan><tspan x="254">0</tspan></text>
<text y="187.5"><tspan x="30">0</tspan><tspan x="62">0</tspan><tspan x="94">0</tspan><tspan x="126">0</tspan><tspan x="158">0</tspan><tspan x="190">0</tspan><tspan x="222">0</tspan><tspan x="254">0</tspan></text>
<text y="219.5"><tspan x="30">0</tspan><tspan x="62">0</tspan><tspan x="94">0</tspan><tspan x="126">0</tspan><tspan x="158">0</tspan><tspan x="190">1</tspan><tspan x="222">4</tspan><tspan x="254">0</tspan></text>
<text y="251.5"><tspan x="30">5</tspan><tspan x="62">6</tspan><tspan x="94">0</tspan><tspan x="126">0</tspan><tspan x="158">0</tspan><tspan x="190">0</tspan><tspan x="222">0</tspan><tspan x="254">0</tspan></text>
</g>
<rect class="bd" width="256" height="256"/>
</g>

<g id="relu-left" transform="translate(1304,568)">
<rect class="bg" width="256" height="256"/>
<g class="c cg">
<rect x="64" y="0" opacity=".63"/><rect x="96" y="0" opacity=".63"/>
<rect x="64" y="32" opacity=".95"/><rect x="96" y="32" opacity=".95"/>
<rect x="0" y="64" opacity=".34"/><rect x="64" y="64" opacity=".63"/><rect x="96" y="64" opacity=".63"/>
<rect x="0" y="96" opacity=".66"/><rect x="64" y="96" opacity=".31"/><rect x="96" y="96" opacity=".29"/>
<rect x="0" y="128" opacity=".65"/><rect x="64" y="128" opacity=".33"/><rect x="96" y="128" opacity=".27"/>
<rect x="0" y="160" opacity=".32"/><rect x="64" y="160" opacity=".68"/><rect x="96" y="160" opacity=".57"/>
<rect x="64" y="192"/><rect x="96" y="192" opacity=".92"/>
<rect x="64" y="224" opacity=".67"/><rect x="96" y="224" opacity=".62"/>
</g>
<g class="n">
<text y="27.5"><tspan x="30">0</tspan><tspan x="62">0</tspan><tspan x="94">179</tspan><tspan x="126">179</tspan><tspan x="158">0</tspan><tspan x="190">0</tspan><tspan x="222">0</tspan><tspan x="254">0</tspan></text>
<text y="59.5"><tspan x="30">2</tspan><tspan x="62">2</tspan><tspan x="94">270</tspan><tspan x="126">271</tspan><tspan x="158">0</tspan><tspan x="190">0</tspan><tspan x="222">1</tspan><tspan x="254">0</tspan></text>
<text y="91.5"><tspan x="30">96</tspan><tspan x="62">2</tspan><tspan x="94">179</tspan><tspan x="126">180</tspan><tspan x="158">0</tspan><tspan x="190">0</tspan><tspan x="222">0</tspan><tspan x="254">0</tspan></text>
<text y="123.5"><tspan x="30">187</tspan><tspan x="62">10</tspan><tspan x="94">88</tspan><tspan x="126">82</tspan><tspan x="158">0</tspan><tspan x="190">0</tspan><tspan x="222">0</tspan><tspan x="254">0</tspan></text>
<text y="155.5"><tspan x="30">186</tspan><tspan x="62">7</tspan><tspan x="94">93</tspan><tspan x="126">76</tspan><tspan x="158">0</tspan><tspan x="190">0</tspan><tspan x="222">0</tspan><tspan x="254">0</tspan></text>
<text y="187.5"><tspan x="30">91</tspan><tspan x="62">7</tspan><tspan x="94">194</tspan><tspan x="126">163</tspan><tspan x="158">0</tspan><tspan x="190">0</tspan><tspan x="222">0</tspan><tspan x="254">0</tspan></text>
<text y="219.5"><tspan x="30">0</tspan><tspan x="62">0</tspan><tspan x="94">284</tspan><tspan x="126">261</tspan><tspan x="158">0</tspan><tspan x="190">0</tspan><tspan x="222">0</tspan><tspan x="254">6</tspan></text>
<text y="251.5"><tspan x="30">0</tspan><tspan x="62">3</tspan><tspan x="94">190</tspan><tspan x="126">175</tspan><tspan x="158">0</tspan><tspan x="190">0</tspan><tspan x="222">0</tspan><tspan x="254">7</tspan></text>
</g>
<rect class="bd" width="256" height="256"/>
</g>

<g id="relu-right" transform="translate(1305,848)">
<rect class="bg" width="256" height="256"/>
<g class="c cb">
<rect x="128" y="0" opacity=".64"/><rect x="160" y="0" opacity=".63"/>
<rect x="128" y="32" opacity=".98"/><rect x="160" y="32" opacity=".96"/>
<rect x="128" y="64" opacity=".67"/><rect x="160" y="64" opacity=".65"/><rect x="224" y="64" opacity=".31"/>
<rect x="128" y="96" opacity=".34"/><rect x="160" y="96" opacity=".31"/><rect x="224" y="96" opacity=".65"/>
<rect x="128" y="128" opacity=".35"/><rect x="160" y="128" opacity=".3"/><rect x="224" y="128" opacity=".63"/>
<rect x="128" y="160" opacity=".68"/><rect x="160" y="160" opacity=".61"/><rect x="224" y="160" opacity=".31"/>
<rect x="128" y="192"/><rect x="160" y="192" opacity=".94"/>
<rect x="128" y="224" opacity=".66"/><rect x="160" y="224" opacity=".64"/>
</g>
<g class="n">
<text y="27.5"><tspan x="30">2</tspan><tspan x="62">1</tspan><tspan x="94">0</tspan><tspan x="126">0</tspan><tspan x="158">178</tspan><tspan x="190">176</tspan><tspan x="222">1</tspan><tspan x="254">0</tspan></text>
<text y="59.5"><tspan x="30">0</tspan><tspan x="62">0</tspan><tspan x="94">0</tspan><tspan x="126">0</tspan><tspan x="158">272</tspan><tspan x="190">267</tspan><tspan x="222">0</tspan><tspan x="254">2</tspan></text>
<text y="91.5"><tspan x="30">0</tspan><tspan x="62">0</tspan><tspan x="94">0</tspan><tspan x="126">0</tspan><tspan x="158">187</tspan><tspan x="190">180</tspan><tspan x="222">4</tspan><tspan x="254">85</tspan></text>
<text y="123.5"><tspan x="30">0</tspan><tspan x="62">0</tspan><tspan x="94">0</tspan><tspan x="126">0</tspan><tspan x="158">94</tspan><tspan x="190">86</tspan><tspan x="222">5</tspan><tspan x="254">181</tspan></text>
<text y="155.5"><tspan x="30">0</tspan><tspan x="62">0</tspan><tspan x="94">0</tspan><tspan x="126">0</tspan><tspan x="158">98</tspan><tspan x="190">83</tspan><tspan x="222">5</tspan><tspan x="254">174</tspan></text>
<text y="187.5"><tspan x="30">0</tspan><tspan x="62">0</tspan><tspan x="94">0</tspan><tspan x="126">0</tspan><tspan x="158">189</tspan><tspan x="190">169</tspan><tspan x="222">6</tspan><tspan x="254">86</tspan></text>
<text y="219.5"><tspan x="30">4</tspan><tspan x="62">0</tspan><tspan x="94">0</tspan><tspan x="126">0</tspan><tspan x="158">278</tspan><tspan x="190">261</tspan><tspan x="222">4</tspan><tspan x="254">0</tspan></text>
<text y="251.5"><tspan x="30">2</tspan><tspan x="62">0</tspan><tspan x="94">0</tspan><tspan x="126">0</tspan><tspan x="158">184</tspan><tspan x="190">177</tspan><tspan x="222">7</tspan><tspan x="254">0</tspan></text>
</g>
<rect class="bd" width="256" height="256"/>
</g>

<g id="pool-bottom" transform="translate(1804,88)">
<rect class="bg" width="128" height="127"/>
<g class="c cy"><rect x="0" y="64"/><rect x="32" y="64" opacity=".69"/><rect x="64" y="64" opacity=".65"/><rect x="96" y="64"/><rect x="32" y="96" opacity=".63" style="height:31px"/><rect x="64" y="96" opacity=".64" style="height:31px"/></g>
<g class="n">
<text y="27.5"><tspan x="30">9</tspan><tspan x="62">0</tspan><tspan x="94">0</tspan><tspan x="126">8</tspan></text>
<text y="59.5"><tspan x="30">0</tspan><tspan x="62">0</tspan><tspan x="94">0</tspan><tspan x="126">0</tspan></text>
<text y="91.5"><tspan x="30">280</tspan><tspan x="62">192</tspan><tspan x="94">181</tspan><tspan x="126">279</tspan></text>
<text y="123.5"><tspan x="30">6</tspan><tspan x="62">177</tspan><tspan x="94">178</tspan><tspan x="126">3</tspan></text>
</g>
<rect class="bd" width="128" height="127"/>
</g>

<g id="pool-top" transform="translate(1808,343)">
<rect class="bg" width="128" height="127"/>
<g class="c co"><rect x="32" y="0" opacity=".63"/><rect x="64" y="0" opacity=".63"/><rect x="0" y="32"/><rect x="32" y="32" opacity=".69"/><rect x="64" y="32" opacity=".64"/><rect x="96" y="32"/></g>
<g class="n">
<text y="27.5"><tspan x="30">5</tspan><tspan x="62">175</tspan><tspan x="94">174</tspan><tspan x="126">0</tspan></text>
<text y="59.5"><tspan x="30">278</tspan><tspan x="62">193</tspan><tspan x="94">178</tspan><tspan x="126">278</tspan></text>
<text y="91.5"><tspan x="30">0</tspan><tspan x="62">0</tspan><tspan x="94">0</tspan><tspan x="126">0</tspan></text>
<text y="123.5"><tspan x="30">6</tspan><tspan x="62">0</tspan><tspan x="94">1</tspan><tspan x="126">4</tspan></text>
</g>
<rect class="bd" width="128" height="127"/>
</g>

<g id="pool-left" transform="translate(1808,637)">
<rect class="bg" width="128" height="127"/>
<g class="c cg"><rect x="32" y="0" opacity=".95"/><rect x="0" y="32" opacity=".66"/><rect x="32" y="32" opacity=".63"/><rect x="0" y="64" opacity=".65"/><rect x="32" y="64" opacity=".68"/><rect x="32" y="96" style="height:31px"/></g>
<g class="n">
<text y="27.5"><tspan x="30">2</tspan><tspan x="62">271</tspan><tspan x="94">0</tspan><tspan x="126">1</tspan></text>
<text y="59.5"><tspan x="30">187</tspan><tspan x="62">180</tspan><tspan x="94">0</tspan><tspan x="126">0</tspan></text>
<text y="91.5"><tspan x="30">186</tspan><tspan x="62">194</tspan><tspan x="94">0</tspan><tspan x="126">0</tspan></text>
<text y="123.5"><tspan x="30">3</tspan><tspan x="62">284</tspan><tspan x="94">0</tspan><tspan x="126">7</tspan></text>
</g>
<rect class="bd" width="128" height="127"/>
</g>

<g id="pool-right" transform="translate(1812,915)">
<rect class="bg" width="128" height="127"/>
<g class="c cb"><rect x="64" y="0" opacity=".98"/><rect x="64" y="32" opacity=".67"/><rect x="96" y="32" opacity=".65"/><rect x="64" y="64" opacity=".68"/><rect x="96" y="64" opacity=".63"/><rect x="64" y="96" style="height:31px"/></g>
<g class="n">
<text y="27.5"><tspan x="30">2</tspan><tspan x="62">0</tspan><tspan x="94">272</tspan><tspan x="126">2</tspan></text>
<text y="59.5"><tspan x="30">0</tspan><tspan x="62">0</tspan><tspan x="94">187</tspan><tspan x="126">181</tspan></text>
<text y="91.5"><tspan x="30">0</tspan><tspan x="62">0</tspan><tspan x="94">189</tspan><tspan x="126">174</tspan></text>
<text y="123.5"><tspan x="30">4</tspan><tspan x="62">0</tspan><tspan x="94">278</tspan><tspan x="126">7</tspan></text>
</g>
<rect class="bd" width="128" height="127"/>
</g>

<g id="connectors">
<polygon class="arrow" points="558,542 714,542 714,530 738,552 714,574 714,562 558,562"/>
<polygon class="arrow" points="1094,542 1252,542 1252,530 1276,552 1252,574 1252,562 1094,562"/>
<polygon class="arrow" points="1584,542 1741,542 1741,530 1765,552 1741,574 1741,562 1584,562"/>
</g>
<text class="lbl" x="571" y="612">Convolution</text>
<text class="lbl" x="571" y="647">(3x3), Stride 1</text>
<text class="lbl" x="1108" y="614">RELU</text>
<text class="lbl" x="1108" y="649">Activation</text>
<text class="lbl" x="1598" y="615">MaxPooling</text>
<text class="lbl" x="1598" y="649">(2x2), Stride 2</text>
</svg>
